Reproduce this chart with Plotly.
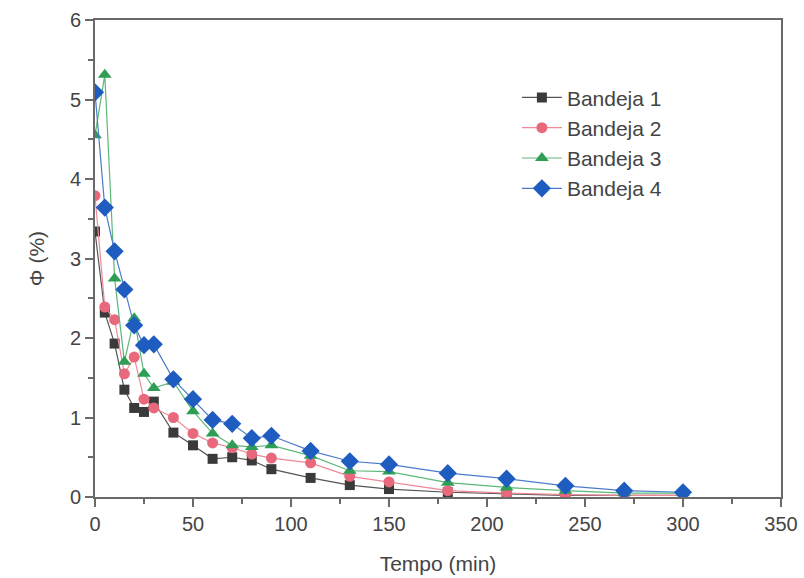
import plotly.graph_objects as go

tempo = [0, 5, 10, 15, 20, 25, 30, 40, 50, 60, 70, 80, 90, 110, 130, 150, 180, 210, 240, 270, 300]

bandeja1 = [3.34, 2.32, 1.93, 1.35, 1.12, 1.07, 1.20, 0.81, 0.65, 0.48, 0.50, 0.46, 0.35, 0.24, 0.15, 0.10, 0.06, 0.04, 0.02, 0.02, 0.02]
bandeja2 = [3.79, 2.39, 2.23, 1.55, 1.76, 1.23, 1.12, 1.00, 0.80, 0.68, 0.62, 0.54, 0.49, 0.43, 0.26, 0.19, 0.08, 0.05, 0.03, 0.02, 0.02]
bandeja3 = [4.55, 5.31, 2.75, 1.70, 2.25, 1.55, 1.37, 1.45, 1.08, 0.80, 0.65, 0.63, 0.65, 0.52, 0.33, 0.32, 0.18, 0.12, 0.08, 0.05, 0.05]
bandeja4 = [5.09, 3.64, 3.09, 2.61, 2.16, 1.91, 1.92, 1.48, 1.23, 0.97, 0.92, 0.74, 0.77, 0.58, 0.45, 0.41, 0.30, 0.23, 0.14, 0.08, 0.06]

names = ["Bandeja 1", "Bandeja 2", "Bandeja 3", "Bandeja 4"]
series = [bandeja1, bandeja2, bandeja3, bandeja4]
marker_colors = ["#3a3a3a", "#e8687c", "#2f9e55", "#1f5cc0"]
line_colors = ["#555555", "#ee8a98", "#5cb878", "#4a7ccc"]
symbols = ["square", "circle", "triangle-up", "diamond"]
sizes = [10, 11, 12, 14]

fig = go.Figure()
for name, ys, mc, lc, sym, sz in zip(names, series, marker_colors, line_colors, symbols, sizes):
    fig.add_trace(go.Scatter(
        x=tempo, y=ys, name=name, mode="lines+markers",
        line=dict(color=lc, width=1.2),
        marker=dict(symbol=sym, size=sz, color=mc, line=dict(width=0)),
    ))

axis_common = dict(
    showline=True, linecolor="#6a6a6a", linewidth=2, mirror=True,
    showgrid=False, zeroline=False, automargin=False,
    ticks="outside", ticklen=8, tickwidth=2, tickcolor="#6a6a6a",
    tickfont=dict(family="Liberation Sans, Arial, sans-serif", size=20, color="#444444"),
)

fig.update_xaxes(
    range=[0, 350], tickmode="linear", tick0=0, dtick=50,
    minor=dict(ticks="outside", ticklen=5, tickwidth=2, tickcolor="#6a6a6a", dtick=25, tick0=0),
    title=dict(text="Tempo (min)", font=dict(family="Liberation Sans, Arial, sans-serif", size=21, color="#444444"), standoff=22),
    **axis_common,
)
fig.update_yaxes(
    range=[0, 6], tickmode="linear", tick0=0, dtick=1,
    minor=dict(ticks="outside", ticklen=5, tickwidth=2, tickcolor="#6a6a6a", dtick=0.5, tick0=0),
    title=dict(text="Φ (%)", font=dict(family="Liberation Sans, Arial, sans-serif", size=21, color="#444444"), standoff=20),
    **axis_common,
)

fig.update_layout(
    width=804, height=578,
    margin=dict(l=95, r=23, t=20, b=81),
    paper_bgcolor="white", plot_bgcolor="white",
    showlegend=True,
    legend=dict(
        x=0.615, y=0.88, xanchor="left", yanchor="top",
        bgcolor="rgba(0,0,0,0)",
        font=dict(family="Liberation Sans, Arial, sans-serif", size=21, color="#444444"),
        itemwidth=40,
    ),
)

fig.write_html("out.html")
